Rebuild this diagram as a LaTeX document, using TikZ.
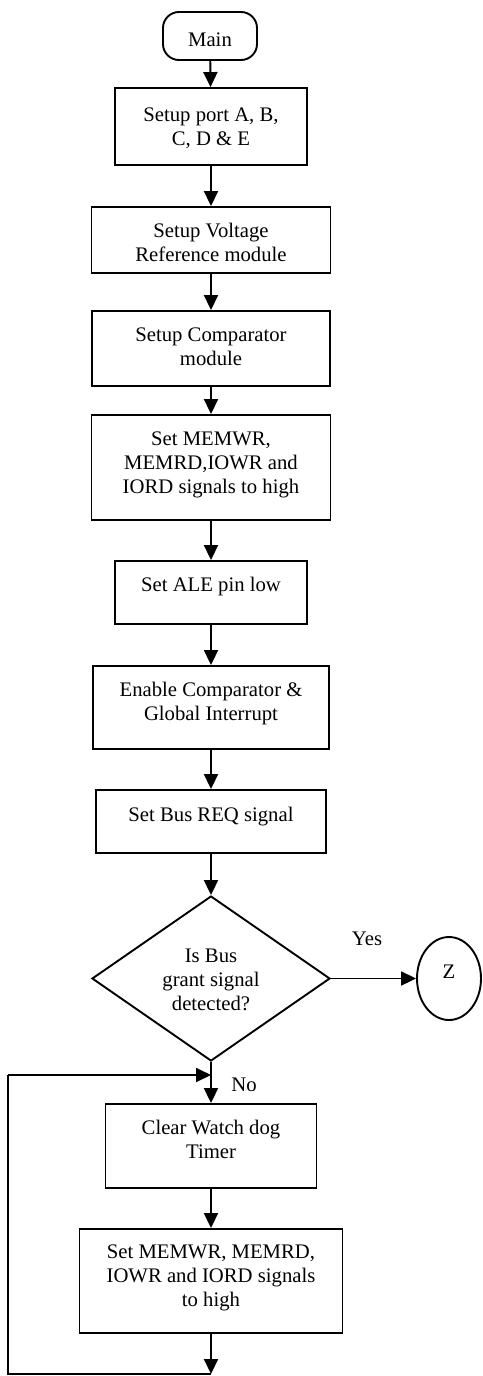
\documentclass[tikz,border=0pt]{standalone}
\usepackage{fontspec}
\setmainfont{Liberation Serif}
\usetikzlibrary{shapes.geometric,arrows.meta}
\begin{document}
\begin{tikzpicture}[x=1pt,y=-1pt,
  every node/.style={font=\fontsize{20.7}{24}\selectfont},
  box/.style={draw, line width=1.9pt, rectangle, inner sep=0pt},
  txt/.style={inner sep=0pt, align=center},
  arr/.style={line width=1.9pt, -{Triangle[width=14pt,length=15pt]}},
  ln/.style={line width=1.9pt}]
\useasboundingbox (0,0) rectangle (482,1376);
% terminal
\node[box, rounded corners=16pt, minimum width=94pt, minimum height=48pt] (main) at (210,36) {};
\node[txt] at (210,40) {Main};
% boxes
\node[box, minimum width=192pt, minimum height=77pt] (b1) at (211,126.5) {};
\node[txt] at (211,128) {Setup port A, B,\\C, D \& E};
\node[box, minimum width=239pt, minimum height=66pt] (b2) at (211,240) {};
\node[txt] at (211,242) {Setup Voltage\\Reference module};
\node[box, minimum width=238pt, minimum height=75pt] (b3) at (211,348.5) {};
\node[txt] at (211,347) {Setup Comparator\\module};
\node[box, minimum width=239pt, minimum height=105pt] (b4) at (211,467.5) {};
\node[txt] at (211,465) {Set MEMWR,\\MEMRD,IOWR and\\IORD signals to high};
\node[box, minimum width=192pt, minimum height=63pt] (b5) at (211,592.5) {};
\node[txt] at (211,587) {Set ALE pin low};
\node[box, minimum width=236pt, minimum height=83pt] (b6) at (211,707.5) {};
\node[txt] at (211,704) {Enable Comparator \&\\Global Interrupt};
\node[box, minimum width=230pt, minimum height=63pt] (b7) at (211,821.5) {};
\node[txt] at (211,817) {Set Bus REQ signal};
% decision
\node[draw, line width=1.9pt, diamond, minimum width=238pt, minimum height=165pt, inner sep=0pt] (d) at (211,978.5) {};
\node[txt] at (211,980) {Is Bus\\grant signal\\detected?};
% Z connector
\node[draw, line width=1.9pt, ellipse, minimum width=64pt, minimum height=83pt, inner sep=0pt] (z) at (449,978.5) {};
\node[txt] at (449,972) {Z};
% loop boxes
\node[box, minimum width=211pt, minimum height=84pt] (b8) at (211,1146) {};
\node[txt] at (211,1139) {Clear Watch dog\\Timer};
\node[box, minimum width=263pt, minimum height=104pt] (b9) at (211,1281) {};
\node[txt] at (211,1278) {Set MEMWR, MEMRD,\\IOWR and IORD signals\\to high};
% coordinates
\coordinate (bot) at (211,1374);
\coordinate (bl) at (8,1374);
\coordinate (tl) at (8,1075);
\coordinate (jn) at (211,1075);
% connectors
\draw[arr] (main) -- (b1);
\draw[arr] (b1) -- (b2);
\draw[arr] (b2) -- (b3);
\draw[arr] (b3) -- (b4);
\draw[arr] (b4) -- (b5);
\draw[arr] (b5) -- (b6);
\draw[arr] (b6) -- (b7);
\draw[arr] (b7) -- (d);
\draw[arr] (d.east) -- (z.west);
\node[txt] at (367,939) {Yes};
\draw[arr] (d.south) -- (b8);
\node[txt] at (244,1085) {No};
\draw[arr] (b8) -- (b9);
\draw[arr] (b9) -- (bot);
\draw[ln] (bot) -- (bl) -- (tl);
\draw[arr] (tl) -- (jn);
\end{tikzpicture}
\end{document}
